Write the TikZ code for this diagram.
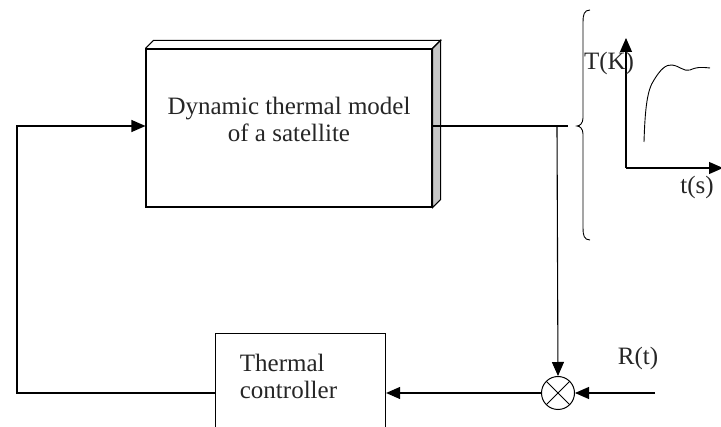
\documentclass[tikz,border=0pt]{standalone}
\usepackage{fontspec}
\setmainfont{Liberation Serif}
\usetikzlibrary{arrows.meta,calc}
\begin{document}
\begin{tikzpicture}[x=1pt,y=-1pt,
  line width=1.1pt,
  txt/.style={font=\fontsize{25}{27}\selectfont, text=black!85},
  arr/.style={-{Triangle[length=14pt,width=12pt]}},
  blk/.style={draw, rectangle, inner sep=0pt},
  sumnode/.style={draw, circle, minimum size=33pt, inner sep=0pt, line width=1pt,
    path picture={\draw[line width=1pt] (path picture bounding box.north west)--(path picture bounding box.south east)
      (path picture bounding box.north east)--(path picture bounding box.south west);}},
]
\clip (0,0) rectangle (721,427);
\fill[white] (0,0) rectangle (721,427);
% satellite block
\node[blk, minimum width=286pt, minimum height=158pt] (sat) at (289,128) {};
\node[txt, align=center] (sattxt) at (289,119) {Dynamic thermal model\\of a satellite};
\draw (sat.north west) -- ++(8,-8) -- ($(sat.north east)+(8,-8)$) -- (sat.north east);
\draw[fill=black!22] (sat.north east) -- ++(8,-8) -- ($(sat.south east)+(8,-8)$) -- (sat.south east) -- cycle;
% controller block (continues below the picture edge)
\node[blk, minimum width=170pt, minimum height=107pt, anchor=north west] (ctrl) at (215,333) {};
\node[txt, align=left, anchor=west] (ctrltxt) at (236,376) {Thermal\\controller};
% summing junction
\node[sumnode] (sum) at (558,393) {};
% output
\coordinate (jn) at (557,126);
\coordinate (outend) at (568,126);
\draw (sat.east |- jn) -- (outend);
\draw[arr] (jn) -- (sum.north);
% reference
\coordinate (rin) at (655,393);
\draw[arr] (rin) -- (sum.east);
\node[txt] (rlbl) at (638,358) {R(t)};
% to controller
\draw[arr] (sum.west) -- (ctrl.east |- sum.west);
% feedback to input
\coordinate (c1) at (17,393);
\coordinate (c2) at (17,126);
\draw[arr] (ctrl.west |- sum.west) -- (c1) -- (c2) -- (sat.west |- c2);
% brace
\draw[line width=0.9pt] (590,10) .. controls (584,10) and (583,15) .. (583,22) -- (583,118)
  .. controls (583,123) and (580,126) .. (577,126)
  .. controls (580,126) and (583,129) .. (583,134) -- (583,228)
  .. controls (583,235) and (584,240) .. (590,240);
% axes
\coordinate (o) at (626,168);
\coordinate (ytop) at (626,38);
\coordinate (xend) at (723,168);
\draw[arr] (o) -- (ytop);
\draw[arr] (o) -- (xend);
\node[txt] (tk) at (609,63) {T(K)};
\node[txt] (ts) at (697,187) {t(s)};
% response curve
\draw[line width=0.9pt] (644,142) .. controls (645,110) and (647,90) .. (654,80)
  .. controls (660,70) and (666,64) .. (672,65)
  .. controls (680,66) and (684,72) .. (690,70)
  .. controls (697,67) and (700,67) .. (710,68);
\end{tikzpicture}
\end{document}
